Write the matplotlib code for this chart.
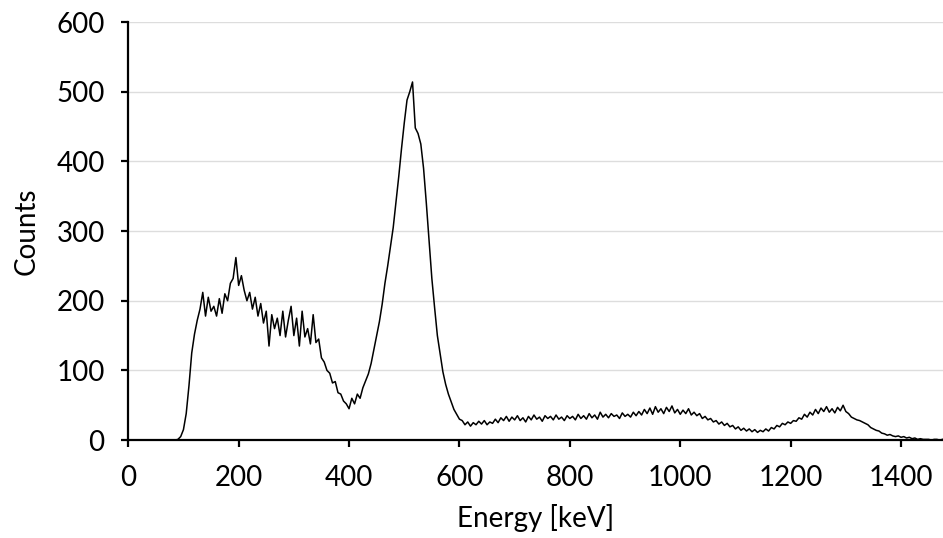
import numpy as np
import matplotlib.pyplot as plt

plt.rcParams['font.family'] = ['Lato', 'DejaVu Sans']

# spectrum, 5 keV channels from 0 to 1475 keV
energy = np.arange(0, 1480, 5)
counts = [
    0, 0, 0, 0, 0, 0, 0, 0, 0, 0, 0, 0, 0, 0, 0, 0, 0, 0, 1, 5,                          # 0-95
    15, 38, 78, 125, 152, 172, 188, 212, 178, 205, 185, 192, 178, 203, 182, 210, 200, 225, 232, 262,  # 100-195
    222, 236, 215, 200, 212, 188, 205, 178, 196, 168, 185, 135, 180, 160, 175, 150, 185, 148, 172, 192,  # 200-295
    150, 175, 135, 185, 148, 160, 138, 180, 140, 145, 118, 112, 100, 96, 82, 84, 68, 66, 56, 52,  # 300-395
    45, 60, 52, 66, 60, 75, 85, 95, 110, 130, 150, 170, 195, 225, 250, 278, 305, 342, 378, 418,  # 400-495
    455, 488, 500, 514, 448, 440, 425, 390, 340, 285, 232, 190, 150, 124, 98, 80, 66, 55, 44, 37,  # 500-595
    30, 28, 22, 26, 20, 25, 22, 27, 23, 28, 22, 26, 24, 30, 25, 32, 28, 34, 27, 33,     # 600-695
    29, 35, 28, 32, 26, 34, 29, 36, 30, 33, 27, 35, 31, 34, 29, 36, 30, 33, 28, 35,     # 700-795
    31, 34, 29, 37, 31, 35, 30, 38, 32, 36, 30, 40, 33, 37, 32, 38, 34, 36, 31, 39,     # 800-895
    34, 37, 33, 40, 35, 41, 36, 44, 38, 46, 37, 48, 40, 45, 38, 47, 41, 49, 39, 44,     # 900-995
    37, 43, 38, 45, 36, 40, 35, 38, 31, 34, 29, 31, 26, 28, 23, 26, 21, 24, 19, 21,     # 1000-1095
    16, 19, 14, 17, 13, 16, 12, 15, 11, 14, 12, 16, 13, 18, 16, 21, 19, 24, 22, 26,     # 1100-1195
    24, 28, 27, 32, 30, 37, 33, 40, 36, 44, 38, 46, 41, 48, 40, 45, 39, 47, 42, 50,     # 1200-1295
    41, 38, 33, 31, 29, 28, 26, 24, 22, 18, 16, 14, 13, 10, 9, 7, 8, 6, 5, 6,           # 1300-1395
    4, 5, 3, 4, 2, 3, 1, 2, 1, 1, 1, 0, 1, 1, 0, 1,                                     # 1400-1475
]

xticks = [0, 200, 400, 600, 800, 1000, 1200, 1400]
yticks = [0, 100, 200, 300, 400, 500, 600]

fig, ax = plt.subplots(figsize=(9.43, 5.38), dpi=100)
fig.subplots_adjust(left=0.136, right=1.0, top=0.959, bottom=0.182)

ax.plot(energy, counts, color='black', lw=1.1)

ax.set_xlim(0, 1476)
ax.set_ylim(0, 600)
ax.set_xticks(xticks)
ax.set_yticks(yticks)
ax.yaxis.grid(True, color='#dddddd', lw=1.0)
ax.set_axisbelow(True)

for s in ['top', 'right']:
    ax.spines[s].set_visible(False)
for s in ['left', 'bottom']:
    ax.spines[s].set_linewidth(1.6)

ax.tick_params(direction='out', length=5, width=1.6, labelsize=20)
ax.tick_params(axis='x', pad=13)
ax.tick_params(axis='y', pad=12)
ax.set_xlabel('Energy [keV]', fontsize=20, labelpad=9)
ax.set_ylabel('Counts', fontsize=20, labelpad=12)

fig.savefig('out.png', dpi=100)
